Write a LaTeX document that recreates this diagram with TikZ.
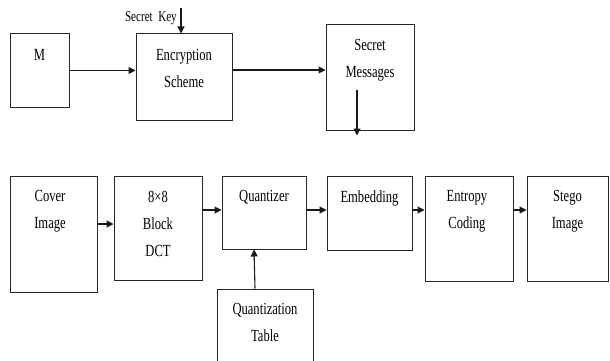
\documentclass[tikz,border=0pt]{standalone}
\usepackage{fontspec}
\setmainfont{Liberation Serif}
\newfontfamily\boxfont[FakeStretch=0.74]{Liberation Serif}
\usetikzlibrary{arrows.meta}
\tikzset{
  block/.style={draw=black!85, line width=1pt, inner sep=0pt},
  lbl/.style={anchor=north, inner sep=0pt, align=center, font=\boxfont\fontsize{17}{27}\selectfont},
  arr/.style={-{Triangle[length=7pt,width=7pt]}, line width=1.1pt, black!90}
}

\begin{document}
\begin{tikzpicture}[x=1pt,y=-1pt]
  \useasboundingbox (0,0) rectangle (610,361);
  \clip (0,0) rectangle (610,361);

  % Encryption row
  \node[block, minimum width=59pt, minimum height=73pt] (m) at (39.5,70.5) {};
  \node[block, minimum width=96pt, minimum height=86pt] (enc) at (184,77) {};
  \node[block, minimum width=88pt, minimum height=105pt] (msg) at (370,77.5) {};

  \node[lbl] (mT) at ([yshift=-16pt]m.north) {M};
  \node[lbl] (encT) at ([yshift=-16pt]enc.north) {Encryption\\Scheme};
  \node[lbl] (msgT) at ([yshift=-15pt]msg.north) {Secret\\Messages};

  % Key input
  \node[anchor=east, inner sep=0pt, font=\boxfont\fontsize{15}{16}\selectfont] (keyT) at (177,18) {Secret\ \ Key};
  \coordinate (keyin) at (181,8);
  \draw[arr] (keyin) -- (keyin |- enc.north);

  \draw[arr] (m.east) -- (m.east -| enc.west);
  \draw[arr] ([yshift=7pt]enc.east) -- ([yshift=7pt]enc.east -| msg.west);
  \draw[arr] ([xshift=-13pt,yshift=-12pt]msg.center) -- ([xshift=-13pt,yshift=-5pt]msg.south);

  % Embedding row
  \node[block, minimum width=87pt, minimum height=116pt] (cover) at (53.5,234) {};
  \node[block, minimum width=88pt, minimum height=104pt] (dct) at (158,228) {};
  \node[block, minimum width=84pt, minimum height=73pt] (quant) at (264,212.5) {};
  \node[block, minimum width=85pt, minimum height=74pt] (embed) at (369.5,213) {};
  \node[block, minimum width=88pt, minimum height=105pt] (entropy) at (469,228.5) {};
  \node[block, minimum width=81pt, minimum height=105pt] (stego) at (567.5,228.5) {};
  \node[block, minimum width=96pt, minimum height=111pt] (table) at (265,344.5) {};

  \node[lbl] (coverT) at ([xshift=-3.5pt,yshift=-15pt]cover.north) {Cover\\Image};
  \node[lbl] (dctT) at ([yshift=-15pt]dct.north) {8\texttimes8\\Block\\DCT};
  \node[lbl] (quantT) at ([yshift=-15pt]quant.north) {Quantizer};
  \node[lbl] (embedT) at ([yshift=-15pt]embed.north) {Embedding};
  \node[lbl] (entropyT) at ([xshift=-2pt,yshift=-15pt]entropy.north) {Entropy\\Coding};
  \node[lbl] (stegoT) at ([yshift=-15pt]stego.north) {Stego\\Image};
  \node[lbl] (tableT) at ([yshift=-15pt]table.north) {Quantization\\Table};

  \draw[arr] ([yshift=10pt]cover.east) -- ([yshift=10pt]cover.east -| dct.west);
  \draw[arr] ([yshift=18pt]dct.east) -- ([yshift=18pt]dct.east -| quant.west);
  \draw[arr] ([yshift=2.5pt]quant.east) -- ([yshift=2.5pt]quant.east -| embed.west);
  \draw[arr] ([yshift=3pt]embed.east) -- ([yshift=3pt]embed.east -| entropy.west);
  \draw[arr] ([yshift=18.5pt]entropy.east) -- ([yshift=18.5pt]entropy.east -| stego.west);
  \draw[arr] ([xshift=-10pt]table.north) -- ([xshift=-10pt]quant.south);
\end{tikzpicture}
\end{document}
